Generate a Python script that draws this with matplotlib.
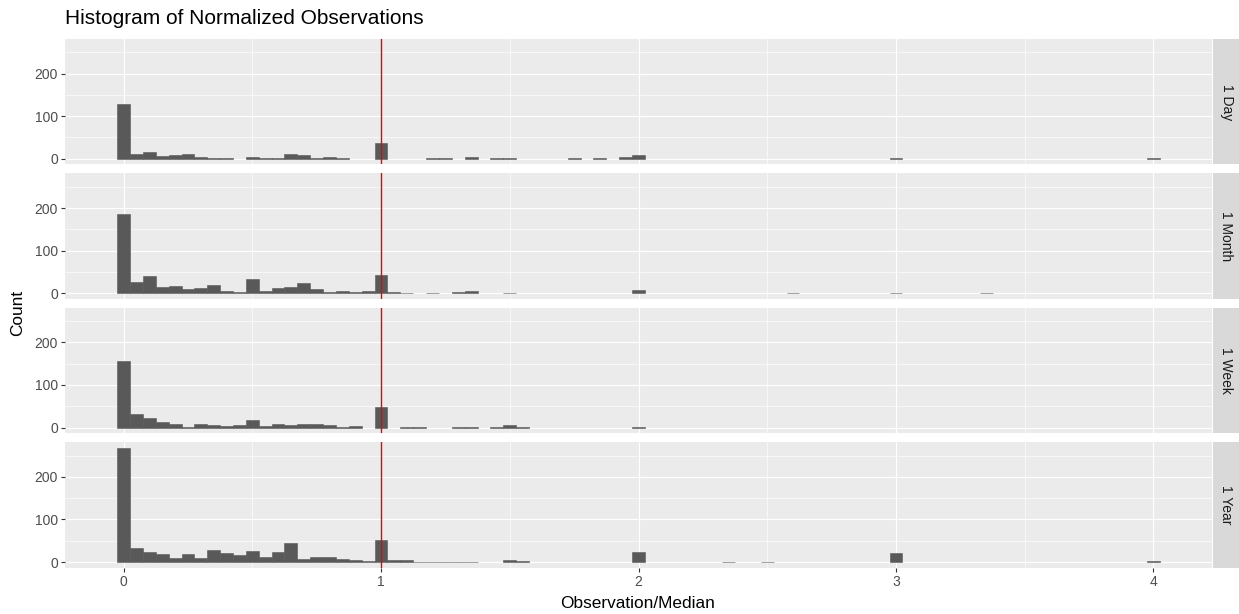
import numpy as np
import matplotlib.pyplot as plt
from matplotlib.ticker import MultipleLocator

plt.rcParams['font.family'] = ['Liberation Sans', 'DejaVu Sans']

# histogram bins, width 0.05, centres 0.00 .. 1.55
bin_x = [0.00, 0.05, 0.10, 0.15, 0.20, 0.25, 0.30, 0.35, 0.40, 0.45,
         0.50, 0.55, 0.60, 0.65, 0.70, 0.75, 0.80, 0.85, 0.90, 0.95,
         1.00, 1.05, 1.10, 1.15, 1.20, 1.25, 1.30, 1.35, 1.40, 1.45,
         1.50, 1.55]
facets = ['1 Day', '1 Month', '1 Week', '1 Year']

day_counts = [129, 12, 16, 6, 9, 11, 3, 1, 1, 0, 5, 1, 1, 12, 8, 1, 5, 1, 0, 0,
              38, 0, 0, 0, 2, 2, 0, 5, 0, 1, 1, 0]
day_tail_x = [1.75, 1.85, 1.95, 2.00, 3.00, 4.00]
day_tail = [1, 2, 4, 8, 1, 1]

month_counts = [187, 26, 41, 15, 17, 10, 11, 19, 5, 2, 33, 6, 13, 15, 23, 9, 3, 5, 3, 5,
                42, 3, 1, 0, 1, 0, 2, 5, 0, 0, 1, 0]
month_tail_x = [2.00, 2.60, 3.00, 3.35]
month_tail = [8, 1, 1, 1]

week_counts = [157, 32, 23, 14, 9, 2, 9, 7, 3, 6, 18, 3, 9, 6, 9, 9, 6, 1, 3, 0,
               49, 0, 1, 2, 0, 0, 1, 2, 0, 1, 7, 2]
week_tail_x = [2.00]
week_tail = [1]

year_counts = [268, 33, 23, 19, 10, 19, 9, 29, 22, 16, 27, 12, 24, 45, 7, 11, 11, 6, 4, 2,
               51, 4, 4, 1, 1, 1, 1, 1, 0, 0, 5, 2]
year_tail_x = [2.00, 2.35, 2.50, 3.00, 4.00]
year_tail = [24, 1, 1, 20, 3]

panel_data = [(day_counts, day_tail_x, day_tail),
              (month_counts, month_tail_x, month_tail),
              (week_counts, week_tail_x, week_tail),
              (year_counts, year_tail_x, year_tail)]

W, H = 1239, 614
fig = plt.figure(figsize=(W / 100, H / 100), dpi=100)

left, right = 65, 1212
tops = [39, 173.4, 307.8, 442.3]
ph = 125.4
strip_w = 27

ymax = max(max(c) for c, _, _ in panel_data)
ylim = (-0.05 * ymax, 1.05 * ymax)
xlim = (-0.025 - 0.2025, 4.025 + 0.2025)

for i, (name, (counts, tx, tc)) in enumerate(zip(facets, panel_data)):
    ax = fig.add_axes([left / W, 1 - (tops[i] + ph) / H, (right - left) / W, ph / H])
    ax.set_facecolor('#EBEBEB')
    ax.set_axisbelow(True)
    ax.grid(which='major', color='white', lw=0.85)
    ax.grid(which='minor', color='white', lw=0.45)
    ax.xaxis.set_major_locator(MultipleLocator(1))
    ax.xaxis.set_minor_locator(MultipleLocator(0.5))
    ax.yaxis.set_major_locator(MultipleLocator(100))
    ax.yaxis.set_minor_locator(MultipleLocator(50))
    xs = np.array(bin_x + tx)
    hs = np.array(counts + tc)
    keep = hs > 0
    ax.bar(xs[keep], hs[keep], width=0.05, color='#595959',
           edgecolor='#595959', linewidth=0.4)
    ax.axvline(1, color='#F00000', lw=1.0)
    ax.set_xlim(*xlim)
    ax.set_ylim(*ylim)
    for s in ax.spines.values():
        s.set_visible(False)
    ax.tick_params(which='major', length=3, width=0.8, color='#333333',
                   labelsize=10, labelcolor='#4D4D4D', pad=2)
    ax.tick_params(which='minor', length=0)
    if i < 3:
        ax.tick_params(axis='x', which='major', labelbottom=False, length=0)

    sax = fig.add_axes([(right + 1) / W, 1 - (tops[i] + ph) / H, strip_w / W, ph / H])
    sax.set_facecolor('#D9D9D9')
    sax.set_xticks([])
    sax.set_yticks([])
    for s in sax.spines.values():
        s.set_visible(False)
    sax.text(0.5, 0.5, name, rotation=-90, ha='center', va='center',
             fontsize=10, color='#1A1A1A', transform=sax.transAxes)

fig.text(65 / W, 1 - 18 / H, 'Histogram of Normalized Observations',
         fontsize=15, ha='left', va='center', color='black')
fig.text(638 / W, 1 - 603 / H, 'Observation/Median', fontsize=12.4,
         ha='center', va='center')
fig.text(18 / W, 1 - 313 / H, 'Count', fontsize=12.4, rotation=90,
         ha='center', va='center')

fig.savefig('out.png', dpi=100)
